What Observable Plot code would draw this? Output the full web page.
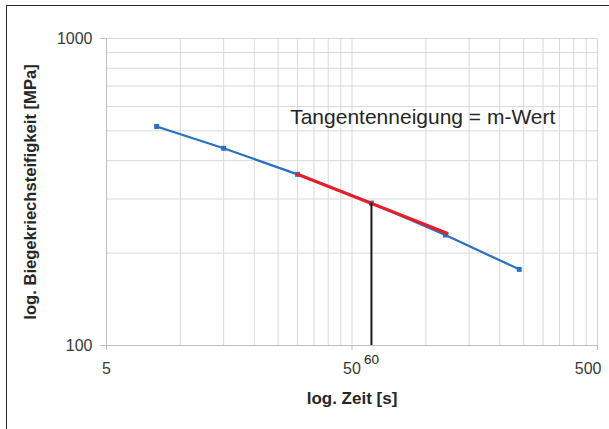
<!DOCTYPE html>
<html>
<head>
<meta charset="utf-8">
<script src="https://cdn.jsdelivr.net/npm/d3@7"></script>
<script src="https://cdn.jsdelivr.net/npm/@observablehq/plot@0.6"></script>
<style>
  html, body { margin: 0; padding: 0; background: #fff; overflow: hidden; }
  #wrap { position: relative; width: 609px; height: 429px; overflow: hidden; }
  #border { position: absolute; left: 6px; top: 5px; width: 700px; height: 600px;
            border-left: 1.6px solid #2a2a2a; border-top: 1.6px solid #2a2a2a; pointer-events: none; z-index: 2; }
</style>
</head>
<body>
<div id="wrap"><div id="border"></div></div>
<script>
// Data
const times = [8, 15, 30, 60, 120, 240];            // s
const stiffness = [517, 439, 361, 291, 229, 177];   // MPa
const tangentTimes = [30, 122];
const tangentStiffness = [361, 232];
const markTime = [60];
const markStiffness = [291];
const markLabel = ["60"];
const xTickValues = [5, 50, 500];
const yTickValues = [100, 1000];
const xGridValues = [5, 10, 15, 20, 25, 30, 35, 40, 45, 50, 100, 150, 200, 250, 300, 350, 400, 450, 500];
const yGridValues = [100, 200, 300, 400, 500, 600, 700, 800, 900, 1000];
const xTitle = "log. Zeit [s]";
const yTitle = "log. Biegekriechsteifigkeit [MPa]";
const annotation = "Tangentenneigung = m-Wert";

const series = times.map((t, i) => ({t, s: stiffness[i]}));
const tangent = tangentTimes.map((t, i) => ({t, s: tangentStiffness[i]}));

const font = "'Liberation Sans', Arial, Helvetica, sans-serif";
const gridColor = "#d9d9d9";
const axisColor = "#bfbfbf";
const labelColor = "#3a3a3a";
const blue = "#2a70c0";
const red = "#e4202a";

const chart = Plot.plot({
  width: 609,
  height: 429,
  marginLeft: 106,
  marginRight: 12,
  marginTop: 38,
  marginBottom: 84,
  x: {type: "log", domain: [5, 500], axis: null},
  y: {type: "log", domain: [100, 1000], axis: null},
  style: {fontFamily: font, background: "white", overflow: "visible"},
  marks: [
    Plot.gridX(xGridValues, {stroke: gridColor, strokeOpacity: 1, strokeWidth: 1}),
    Plot.gridY(yGridValues, {stroke: gridColor, strokeOpacity: 1, strokeWidth: 1}),
    Plot.ruleY([100], {stroke: axisColor, strokeWidth: 1}),
    Plot.ruleX([5], {stroke: axisColor, strokeWidth: 1}),
    // x ticks (short, below the axis) and labels
    Plot.ruleX(xTickValues, {x: d => d, y1: 100, y2: 100, insetBottom: -5, stroke: axisColor}),
    Plot.text(xTickValues.slice(0, 2), {x: d => d, frameAnchor: "bottom", lineAnchor: "top",
      dy: 17, text: d => String(d), fontSize: 16, fill: labelColor}),
    Plot.text(xTickValues.slice(2), {x: d => d, frameAnchor: "bottom", lineAnchor: "top",
      dy: 17, dx: 4, textAnchor: "end", text: d => String(d), fontSize: 16, fill: labelColor}),
    // y ticks and labels
    Plot.axisY(yTickValues, {
      tickSize: 6, tickPadding: 8, stroke: axisColor, fontSize: 16, fill: labelColor,
      tickFormat: d => String(d), label: null
    }),
    Plot.line(series, {x: "t", y: "s", stroke: blue, strokeWidth: 2.2}),
    Plot.dot(series, {x: "t", y: "s", symbol: "square", r: 2.8, fill: blue, stroke: "none"}),
    Plot.line(tangent, {x: "t", y: "s", stroke: red, strokeWidth: 3.2}),
    Plot.ruleX(markTime, {y1: 100, y2: markStiffness[0], stroke: "#1a1a1a", strokeWidth: 2}),
    Plot.text(markLabel, {x: markTime, frameAnchor: "bottom", lineAnchor: "bottom", dy: 18,
      text: d => d, fontSize: 13.5, fill: "#222"}),
    Plot.text([annotation], {x: [28], y: [554], text: d => d, textAnchor: "start",
      fontSize: 21, fill: "#262626"}),
    Plot.text([xTitle], {frameAnchor: "bottom", dy: 58, text: d => d,
      fontSize: 17, fontWeight: "bold", fill: "#262626"}),
    Plot.text([yTitle], {frameAnchor: "left", dx: -76, rotate: -90, textAnchor: "middle",
      text: d => d, fontSize: 16.6, fontWeight: "bold", fill: "#262626"})
  ]
});
chart.style.position = "absolute";
chart.style.left = "0";
chart.style.top = "0";
document.getElementById("wrap").prepend(chart);
</script>
</body>
</html>
